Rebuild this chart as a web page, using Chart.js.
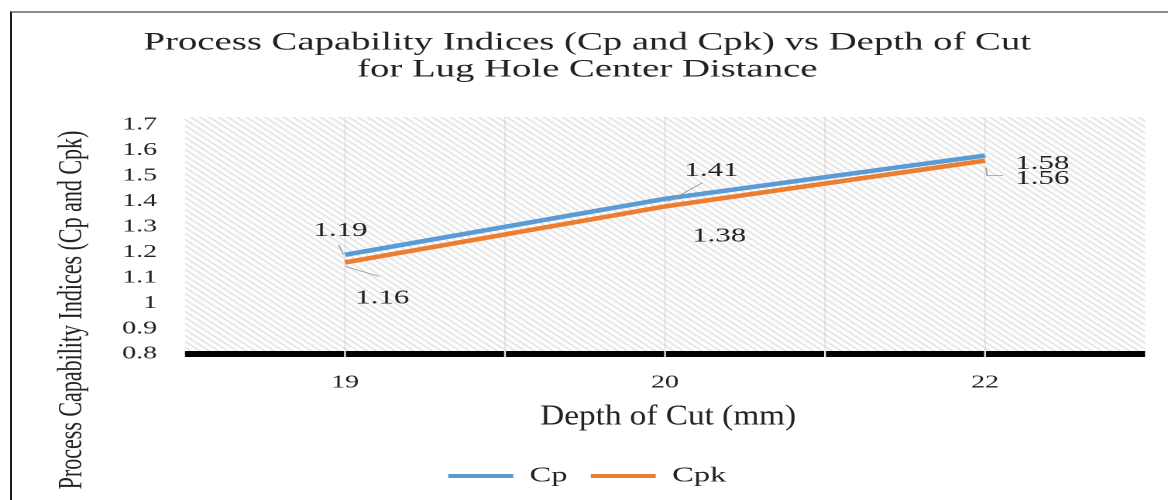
<!DOCTYPE html>
<html>
<head>
<meta charset="utf-8">
<script src="https://cdn.jsdelivr.net/npm/chart.js@4.4.1/dist/chart.umd.min.js"></script>
<style>
  html, body { margin: 0; padding: 0; background: #fff; }
  #wrap { position: relative; width: 1168px; height: 500px; overflow: hidden; }
  #frame {
    position: absolute; left: 10px; top: 11px; width: 1170px; height: 500px;
    border-left: 2px solid #1a1a1a; border-top: 2px solid #8c8c8c;
  }
  #cp-chart { position: absolute; left: 0; top: 0; }
</style>
</head>
<body>
<div id="wrap">
  <div id="frame"></div>
  <!-- drawn at 754 wide and shown at 1168: the source figure is stretched sideways -->
  <canvas id="cp-chart" width="754" height="500" style="width:1168px;height:500px"></canvas>
</div>
<script>
const depths = ["19", "20", "22"];
const cpValues = [1.19, 1.41, 1.58];
const cpkValues = [1.16, 1.38, 1.56];
const yMin = 0.8;
const yMax = 1.7;
const yStep = 0.1;

const titleLines = [
  "Process Capability Indices (Cp and Cpk) vs Depth of Cut",
  "for Lug Hole Center Distance",
];
const xTitle = "Depth of Cut (mm)";
const yTitle = "Process Capability Indices (Cp and Cpk)";

const serif = "'Liberation Serif', 'Times New Roman', serif";
const ink = "#222";

// where each value label sits, relative to its point (canvas units)
const labelOffsets = [
  [[-3, -24], [30, -28], [37, 8]],
  [[24, 36], [35, 30], [37, 18]],
];
// leader lines, as points relative to the data point
const leaders = [
  [[[-4, -10], [-1, 0]], [[2, 3], [24, -16]], null],
  [[[0, 4], [22, 14]], null, [[0.6, 7], [1.3, 15], [11.6, 15]]],
];

const makeHatch = (ctx) => {
  const c = document.createElement("canvas");
  c.width = 6;
  c.height = 6;
  const p = c.getContext("2d");
  p.strokeStyle = "#d9d9d9";
  p.lineWidth = 1.2;
  p.beginPath();
  p.moveTo(-1, -1);
  p.lineTo(7, 7);
  p.moveTo(-1, 5);
  p.lineTo(1, 7);
  p.moveTo(5, -1);
  p.lineTo(7, 1);
  p.stroke();
  return ctx.createPattern(c, "repeat");
};

const plotBackground = {
  id: "plotBackground",
  beforeDatasetsDraw: (chart) => {
    const { ctx, chartArea: a, scales } = chart;
    const x = scales.x;
    const marks = [];
    depths.forEach((d, i) => {
      const px = x.getPixelForValue(i);
      marks.push(px);
      if (i < depths.length - 1) {
        marks.push((px + x.getPixelForValue(i + 1)) / 2);
      }
    });
    ctx.save();
    ctx.fillStyle = makeHatch(ctx);
    ctx.fillRect(a.left, a.top - 8, a.right - a.left, a.bottom - a.top + 8);
    ctx.strokeStyle = "rgba(185,185,185,0.45)";
    ctx.lineWidth = 0.7;
    marks.forEach((m) => {
      ctx.beginPath();
      ctx.moveTo(m, a.top - 8);
      ctx.lineTo(m, a.bottom);
      ctx.stroke();
    });
    // heavy category axis with light breaks
    ctx.fillStyle = "#000";
    ctx.fillRect(a.left, a.bottom - 3, a.right - a.left, 6);
    ctx.fillStyle = "#e6e6e6";
    marks.forEach((m) => ctx.fillRect(m - 0.6, a.bottom - 3.5, 1.2, 7));
    ctx.restore();
  },
};

const valueLabels = {
  id: "valueLabels",
  afterDatasetsDraw: (chart) => {
    const { ctx } = chart;
    ctx.save();
    chart.data.datasets.forEach((ds, di) => {
      const meta = chart.getDatasetMeta(di);
      meta.data.forEach((pt, i) => {
        const lead = leaders[di][i];
        if (lead) {
          ctx.strokeStyle = "#9a9a9a";
          ctx.lineWidth = 0.8;
          ctx.beginPath();
          lead.forEach(([dx, dy], k) => {
            if (k === 0) ctx.moveTo(pt.x + dx, pt.y + dy);
            else ctx.lineTo(pt.x + dx, pt.y + dy);
          });
          ctx.stroke();
        }
        const [ox, oy] = labelOffsets[di][i];
        ctx.fillStyle = ink;
        ctx.font = `20px ${serif}`;
        ctx.textAlign = "center";
        ctx.textBaseline = "middle";
        ctx.fillText(ds.data[i].toFixed(2), pt.x + ox, pt.y + oy);
      });
    });
    ctx.restore();
  },
};

const axisTitles = {
  id: "axisTitles",
  afterDraw: (chart) => {
    const { ctx, chartArea: a } = chart;
    ctx.save();
    ctx.fillStyle = ink;
    ctx.textAlign = "center";
    ctx.textBaseline = "middle";
    // x title, narrow face
    ctx.save();
    ctx.translate((a.left + a.right) / 2 + 2, a.bottom + 63);
    ctx.scale(0.74, 1);
    ctx.font = `29px ${serif}`;
    ctx.fillText(xTitle, 0, 0);
    ctx.restore();
    // y title, sits low in the figure
    ctx.translate(46.5, 310);
    ctx.rotate(-Math.PI / 2);
    ctx.font = `22px ${serif}`;
    ctx.fillText(yTitle, 0, 0);
    ctx.restore();
  },
};

window.onload = () => {
  const ctx = document.getElementById("cp-chart");
  new Chart(ctx, {
    type: "line",
    data: {
      labels: depths,
      datasets: [
        {
          label: "Cp",
          data: cpValues,
          borderColor: "#5B9BD5",
          backgroundColor: "#5B9BD5",
          borderWidth: 4.5,
          pointRadius: 0,
        },
        {
          label: "Cpk",
          data: cpkValues,
          borderColor: "#ED7D31",
          backgroundColor: "#ED7D31",
          borderWidth: 4.5,
          pointRadius: 0,
        },
      ],
    },
    options: {
      responsive: false,
      animation: false,
      devicePixelRatio: 2,
      layout: {
        padding: { top: 29.5, left: 19, right: 14.8, bottom: 3.5 },
      },
      plugins: {
        title: {
          display: true,
          text: titleLines,
          color: ink,
          font: { family: serif, size: 25, weight: "normal", lineHeight: "27px" },
          padding: { top: 0, bottom: 41.5 },
        },
        legend: {
          position: "bottom",
          labels: {
            color: ink,
            font: { family: serif, size: 21 },
            boxWidth: 42,
            boxHeight: 4,
            padding: 15,
            generateLabels: (chart) =>
              Chart.defaults.plugins.legend.labels
                .generateLabels(chart)
                .map((item) => ({ ...item, lineWidth: 0 })),
          },
        },
        tooltip: { enabled: false },
      },
      scales: {
        x: {
          offset: true,
          grid: { display: false, drawTicks: false, offset: true },
          border: { display: false },
          ticks: {
            color: ink,
            font: { family: serif, size: 18 },
            padding: 18,
          },
          afterFit: (scale) => {
            scale.height = 96.5;
          },
        },
        y: {
          min: yMin,
          max: yMax,
          grid: { display: false, drawTicks: false },
          border: { display: false },
          ticks: {
            stepSize: yStep,
            color: ink,
            font: { family: serif, size: 18 },
            padding: 18,
            callback: (v) => String(Number(v.toFixed(1))),
          },
          afterFit: (scale) => {
            scale.width = 100.4;
          },
        },
      },
    },
    plugins: [plotBackground, valueLabels, axisTitles],
  });
};
</script>
</body>
</html>
